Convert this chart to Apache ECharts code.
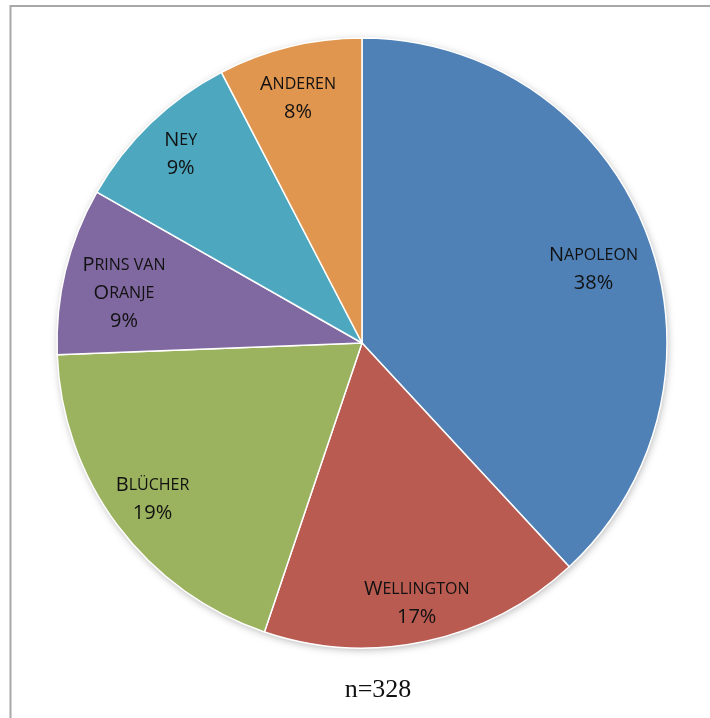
<!DOCTYPE html>
<html>
<head>
<meta charset="utf-8">
<script src="https://cdn.jsdelivr.net/npm/echarts@6/dist/echarts.min.js"></script>
<style>
  html, body { margin: 0; padding: 0; background: #ffffff; }
  #chart { width: 710px; height: 718px; }
</style>
</head>
<body>
<div id="chart"></div>
<script>
// Respondents per person (n = 328)
const names = ['Napoleon', 'Wellington', 'Blücher', 'Prins van Oranje', 'Ney', 'Anderen'];
const counts = [125, 56, 63, 29, 30, 25];
const colors = ['#4F81B7', '#B95B51', '#9BB25E', '#8068A0', '#4CA7BF', '#E0964E'];
const footnote = 'n=328';

const total = counts.reduce((a, b) => a + b, 0);

// Small-caps look: capitals stay full size, lowercase letters become smaller capitals
function smallCaps(text) {
  return text.split('\n').map(line => {
    let out = '';
    for (const ch of line) {
      const isUpper = ch !== ch.toLowerCase();
      out += (isUpper ? '{big|' : '{small|') + ch.toUpperCase() + '}';
    }
    return out;
  }).join('\n');
}
const labelText = { 'Prins van Oranje': 'Prins van\nOranje' };
// small per-label nudges so each label sits comfortably inside its slice
const labelNudge = {
  'Napoleon': [-12, 22],
  'Wellington': [0, 5],
  'Prins van Oranje': [16, 12],
  'Anderen': [-2, 9]
};

const center = [362, 343];
const R = 305;

const sliceData = names.map((n, i) => ({
  name: n, value: counts[i], itemStyle: { color: colors[i] }
}));

const font = '"Open Sans", sans-serif';
const ink = '#111111';

const chart = echarts.init(document.getElementById('chart'));
chart.setOption({
  animation: false,
  graphic: [
    {
      type: 'polyline',
      shape: { points: [[10.5, 730], [10.5, 6], [720, 6]] },
      style: { stroke: '#A8A8A8', lineWidth: 2, fill: null },
      z: 0
    },
    {
      type: 'text',
      x: 378, y: 690,
      style: {
        text: footnote, font: '26px "Liberation Serif", "DejaVu Serif", serif', fill: '#111111',
        align: 'center', verticalAlign: 'middle'
      }
    }
  ],
  series: [
    {
      // soft shadow behind the whole disc
      type: 'pie', center: center, radius: [0, R - 1], silent: true, z: 1,
      label: { show: false }, labelLine: { show: false },
      data: [{ value: total, itemStyle: { color: '#ffffff', shadowBlur: 8, shadowColor: 'rgba(0,0,0,0.35)', shadowOffsetX: 1, shadowOffsetY: 2 } }]
    },
    {
      type: 'pie', center: center, radius: [0, R], startAngle: 90, clockwise: true, z: 2,
      silent: true,
      itemStyle: { borderColor: '#ffffff', borderWidth: 1.5 },
      label: { show: false }, labelLine: { show: false },
      data: sliceData
    },
    {
      // label ring placed near the outer part of each slice
      type: 'pie', center: center, radius: [212, R], startAngle: 90, clockwise: true, z: 3,
      silent: true, percentPrecision: 0,
      itemStyle: { color: 'rgba(0,0,0,0)' },
      labelLine: { show: false },
      label: {
        show: true, position: 'inside',
        formatter: p => smallCaps(labelText[p.name] || p.name) + '\n{pct|' + Math.round(p.percent) + '%}',
        lineHeight: 28,
        rich: {
          big: { fontFamily: font, fontSize: 20, color: ink, lineHeight: 28 },
          small: { fontFamily: font, fontSize: 16, color: ink, lineHeight: 28 },
          pct: { fontFamily: font, fontSize: 20, color: ink, lineHeight: 28 }
        }
      },
      data: names.map((n, i) => ({
        name: n, value: counts[i],
        label: labelNudge[n] ? { offset: labelNudge[n] } : undefined
      }))
    }
  ]
});
</script>
</body>
</html>
